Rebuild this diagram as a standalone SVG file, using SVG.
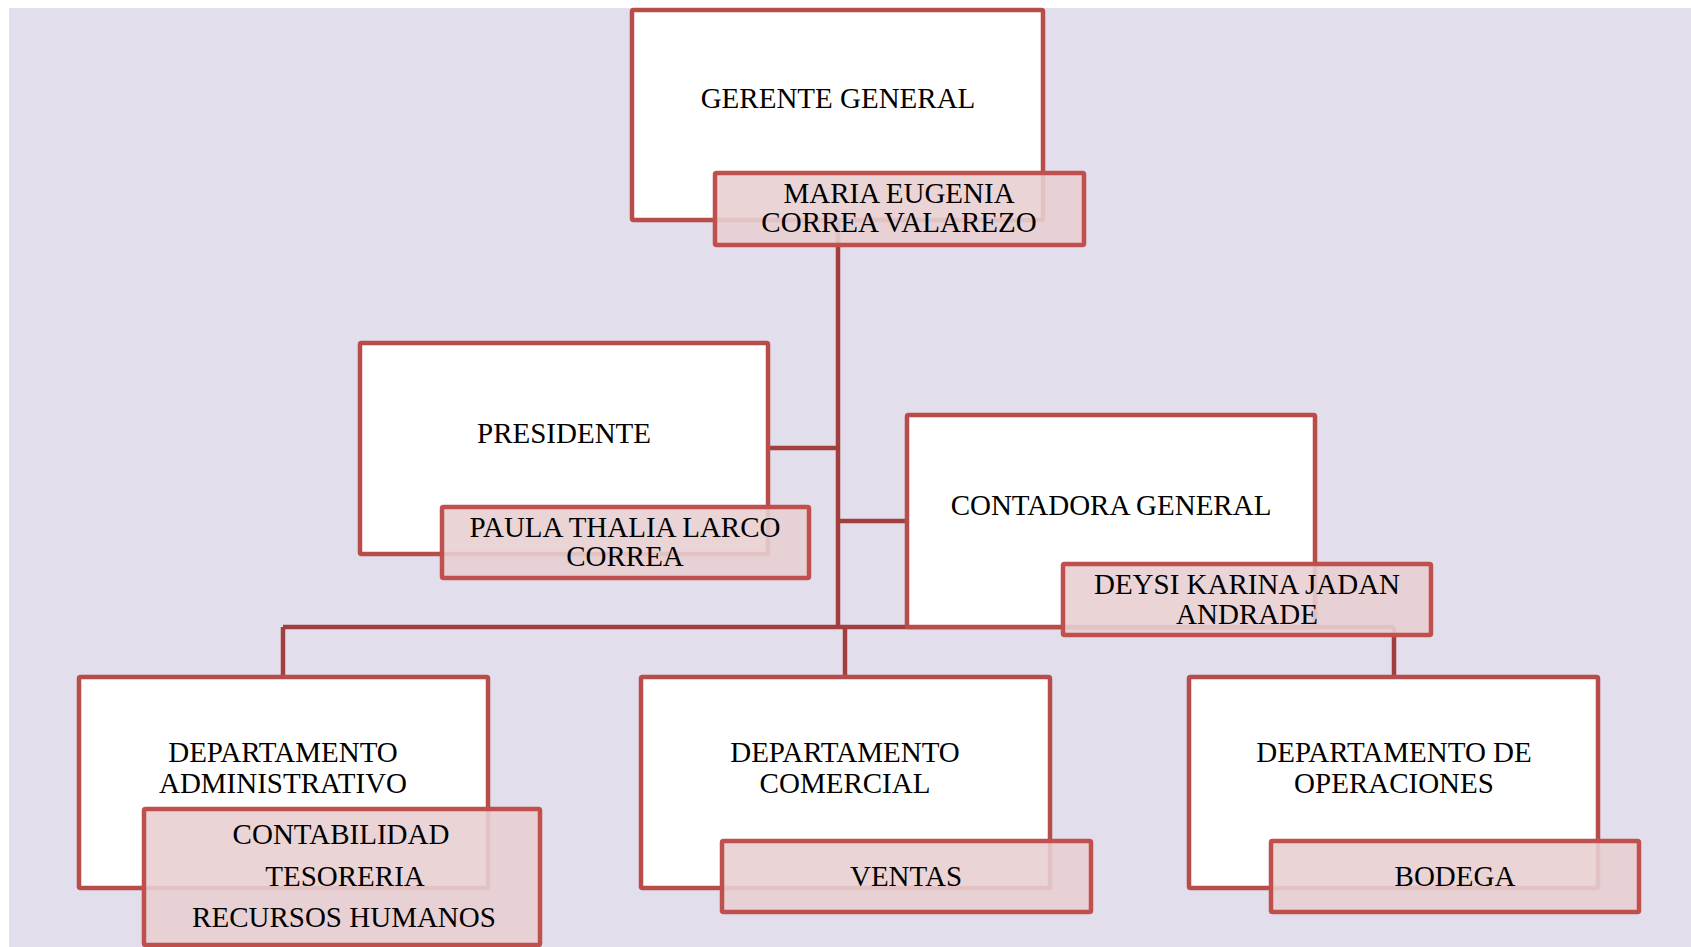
<svg xmlns="http://www.w3.org/2000/svg" width="1691" height="947" viewBox="0 0 1691 947">
<style>
.box{fill:#ffffff;stroke:#B84C49;stroke-width:4.5}
.name{fill:#E8CFD2;fill-opacity:0.9;stroke:#C0504D;stroke-width:4.5}
.conn{fill:none;stroke:#A03F3D;stroke-width:4.5}
text{font-family:"Liberation Serif","Times New Roman",serif;font-size:29px;fill:#000;text-anchor:middle}
</style>
<rect x="0" y="0" width="1691" height="947" fill="#ffffff"/>
<rect x="9" y="8" width="1682" height="939" fill="#E3DEEB"/>
<g id="connectors">
<path class="conn" d="M838,220 V627"/>
<path class="conn" d="M768,448 H838"/>
<path class="conn" d="M838,521 H907"/>
<path class="conn" d="M283,627 H1394"/>
<path class="conn" d="M283,627 V677"/>
<path class="conn" d="M845,627 V677"/>
<path class="conn" d="M1394,627 V677"/>
</g>
<g id="gerente">
<rect class="box" x="632" y="10" width="411" height="210" rx="1.5"/>
<text x="838" y="108">GERENTE GENERAL</text>
<rect class="name" x="715" y="173" width="369" height="72" rx="1.5"/>
<text x="899" y="203">MARIA EUGENIA</text>
<text x="899" y="232">CORREA VALAREZO</text>
</g>
<g id="presidente">
<rect class="box" x="360" y="343" width="408" height="211" rx="1.5"/>
<text x="564" y="443">PRESIDENTE</text>
<rect class="name" x="442" y="507" width="367" height="71" rx="1.5"/>
<text x="625" y="537">PAULA THALIA LARCO</text>
<text x="625" y="566">CORREA</text>
</g>
<g id="contadora">
<rect class="box" x="907" y="415" width="408" height="212" rx="1.5"/>
<text x="1111" y="515">CONTADORA GENERAL</text>
<rect class="name" x="1063" y="564" width="368" height="71" rx="1.5"/>
<text x="1247" y="594">DEYSI KARINA JADAN</text>
<text x="1247" y="624">ANDRADE</text>
</g>
<g id="administrativo">
<rect class="box" x="79" y="677" width="409" height="211" rx="1.5"/>
<text x="283" y="762">DEPARTAMENTO</text>
<text x="283" y="793">ADMINISTRATIVO</text>
<rect class="name" x="144" y="809" width="396" height="136" rx="1.5"/>
<text x="341" y="844">CONTABILIDAD</text>
<text x="345" y="886">TESORERIA</text>
<text x="344" y="927">RECURSOS HUMANOS</text>
</g>
<g id="comercial">
<rect class="box" x="641" y="677" width="409" height="211" rx="1.5"/>
<text x="845" y="762">DEPARTAMENTO</text>
<text x="845" y="793">COMERCIAL</text>
<rect class="name" x="722" y="841" width="369" height="71" rx="1.5"/>
<text x="906" y="886">VENTAS</text>
</g>
<g id="operaciones">
<rect class="box" x="1189" y="677" width="409" height="211" rx="1.5"/>
<text x="1394" y="762">DEPARTAMENTO DE</text>
<text x="1394" y="793">OPERACIONES</text>
<rect class="name" x="1271" y="841" width="368" height="71" rx="1.5"/>
<text x="1455" y="886">BODEGA</text>
</g>
</svg>
